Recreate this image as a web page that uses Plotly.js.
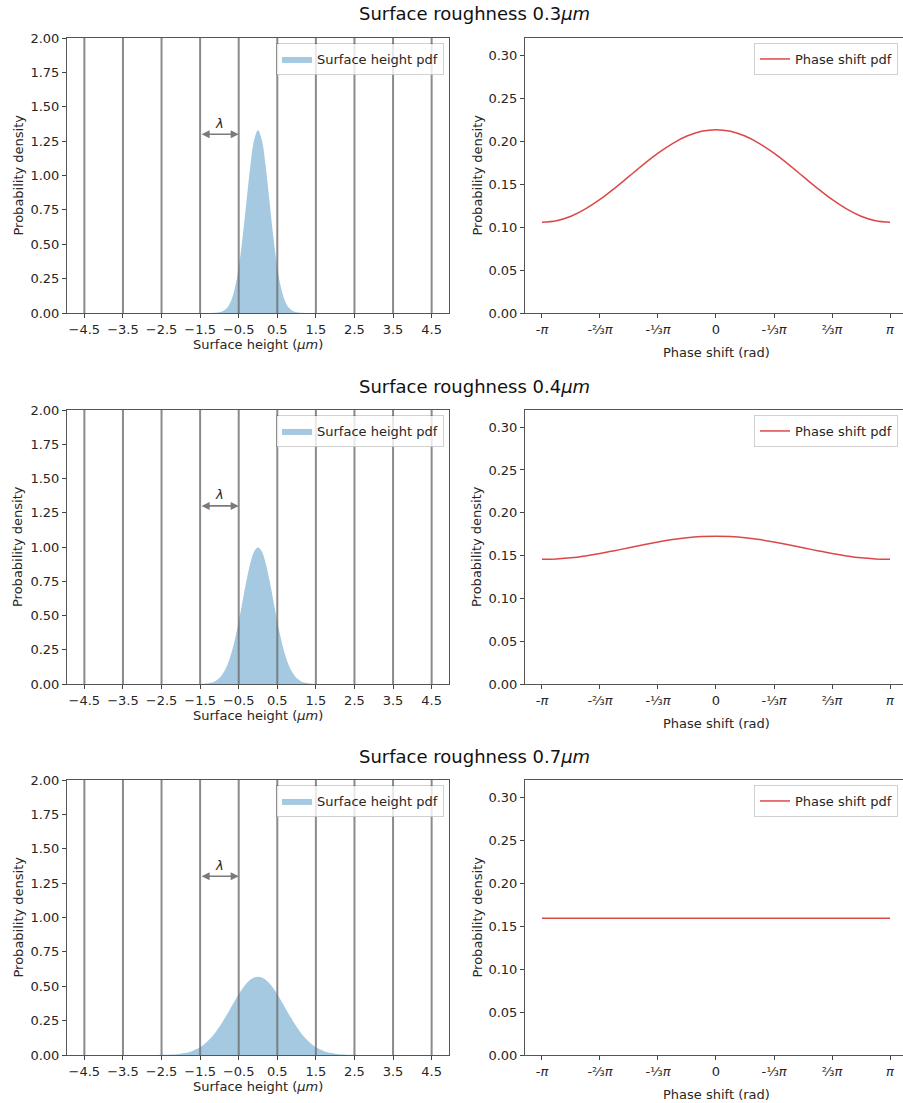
<!DOCTYPE html>
<html>
<head>
<meta charset="utf-8">
<script src="https://cdn.plot.ly/plotly-3.0.1.min.js"></script>
<style>
  html, body { margin: 0; padding: 0; background: #fff; }
  #chart { width: 903px; height: 1103px; }
</style>
</head>
<body>
<div id="chart"></div>
<script>
// Surface roughness values (µm), one row of panels each
const roughness = [0.3, 0.4, 0.7];

// Surface height grid (µm)
const height = [-3.0,-2.9,-2.8,-2.7,-2.6,-2.5,-2.4,-2.3,-2.2,-2.1,-2.0,-1.9,-1.8,-1.7,-1.6,-1.5,-1.4,-1.3,-1.2,-1.1,-1.0,
  -0.9,-0.8,-0.7,-0.6,-0.5,-0.4,-0.3,-0.2,-0.1,0.0,0.1,0.2,0.3,0.4,0.5,0.6,0.7,0.8,0.9,1.0,
  1.1,1.2,1.3,1.4,1.5,1.6,1.7,1.8,1.9,2.0,2.1,2.2,2.3,2.4,2.5,2.6,2.7,2.8,2.9,3.0];

// Surface height probability density for each roughness
const heightPdf03 = [0,0,0,0,0,0,0,0,0,0,0,0,0,0,0,0,0,
  0.0001,0.0004,0.0016,0.0051,0.0148,0.0380,0.0874,0.1800,0.3317,0.5467,0.8066,1.0648,1.2580,
  1.3298,
  1.2580,1.0648,0.8066,0.5467,0.3317,0.1800,0.0874,0.0380,0.0148,0.0051,0.0016,0.0004,0.0001,
  0,0,0,0,0,0,0,0,0,0,0,0,0,0,0,0,0];
const heightPdf04 = [0,0,0,0,0,0,0,0,0,0,0,0,0,
  0.0001,0.0003,0.0009,0.0022,0.0051,0.0111,0.0227,0.0438,0.0794,0.1350,0.2158,0.3238,0.4566,0.6049,0.7528,0.8802,0.9667,
  0.9974,
  0.9667,0.8802,0.7528,0.6049,0.4566,0.3238,0.2158,0.1350,0.0794,0.0438,0.0227,0.0111,0.0051,0.0022,0.0009,0.0003,0.0001,
  0,0,0,0,0,0,0,0,0,0,0,0,0];
const heightPdf07 = [0,0.0001,0.0002,0.0003,0.0006,0.0010,0.0016,0.0026,0.0041,0.0063,0.0096,0.0143,0.0209,0.0299,0.0418,
  0.0574,0.0771,0.1016,0.1311,0.1658,0.2054,0.2494,0.2966,0.3457,0.3947,0.4416,0.4841,0.5199,0.5471,0.5641,
  0.5699,
  0.5641,0.5471,0.5199,0.4841,0.4416,0.3947,0.3457,0.2966,0.2494,0.2054,0.1658,0.1311,0.1016,0.0771,0.0574,
  0.0418,0.0299,0.0209,0.0143,0.0096,0.0063,0.0041,0.0026,0.0016,0.0010,0.0006,0.0003,0.0002,0.0001,0];

// Phase shift grid (rad)
const phase = [-3.1416,-2.8798,-2.6180,-2.3562,-2.0944,-1.8326,-1.5708,-1.3090,-1.0472,-0.7854,-0.5236,-0.2618,0,
  0.2618,0.5236,0.7854,1.0472,1.3090,1.5708,1.8326,2.0944,2.3562,2.6180,2.8798,3.1416];

// Wrapped phase shift probability density for each roughness
const phasePdf03 = [0.1056,0.1074,0.1126,0.1211,0.1321,0.1450,0.1589,0.1729,0.1860,0.1972,0.2059,0.2114,0.2133,
  0.2114,0.2059,0.1972,0.1860,0.1729,0.1589,0.1450,0.1321,0.1211,0.1126,0.1074,0.1056];
const phasePdf04 = [0.1456,0.1461,0.1474,0.1496,0.1524,0.1557,0.1592,0.1627,0.1659,0.1687,0.1709,0.1722,0.1727,
  0.1722,0.1709,0.1687,0.1659,0.1627,0.1592,0.1557,0.1524,0.1496,0.1474,0.1461,0.1456];
const phasePdf07 = [0.15913,0.15913,0.15914,0.15914,0.15914,0.15915,0.15915,0.15915,0.15916,0.15916,0.15917,0.15917,0.15917,
  0.15917,0.15917,0.15916,0.15916,0.15915,0.15915,0.15915,0.15914,0.15914,0.15914,0.15913,0.15913];

// Wavelength markers (µm) and the λ span shown by the arrow
const wavelengthLines = [-4.5,-3.5,-2.5,-1.5,-0.5,0.5,1.5,2.5,3.5,4.5];
const heightTicks = [-4.5,-3.5,-2.5,-1.5,-0.5,0.5,1.5,2.5,3.5,4.5];
const heightTickText = ['\u22124.5','\u22123.5','\u22122.5','\u22121.5','\u22120.5','0.5','1.5','2.5','3.5','4.5'];
const lambdaSpan = [-1.5, -0.5];
const lambdaLevel = 1.3;

const phaseTicks = [-3.14159,-2.0944,-1.0472,0,1.0472,2.0944,3.14159];
const phaseTickText = ['-<i>\u03c0</i>','-\u2154<i>\u03c0</i>','-\u2153<i>\u03c0</i>','0','-\u2153<i>\u03c0</i>','\u2154<i>\u03c0</i>','<i>\u03c0</i>'];

const heightPdfs = [heightPdf03, heightPdf04, heightPdf07];
const phasePdfs = [phasePdf03, phasePdf04, phasePdf07];

const FONT = 'DejaVu Sans, sans-serif';
const TXT = '#262626';
const W = 903, H = 1103;
const px = v => v / W;
const py = v => 1 - v / H;
const axId = n => (n === 1 ? '' : String(n));

// Panel rectangles in pixels: [top, bottom] per row
const rowsPx = [[38, 313], [410, 684], [780, 1055]];
const leftPx = [67, 449];
const rightPx = [525, 903];

const data = [];
const shapes = [];
const annotations = [];
const layout = {
  width: W, height: H,
  margin: {l: 0, r: 0, t: 0, b: 0},
  paper_bgcolor: '#fff', plot_bgcolor: '#fff',
  font: {family: FONT, size: 13, color: TXT},
  showlegend: true
};

const axisCommon = {
  showgrid: false, zeroline: false,
  showline: true, linecolor: '#555', linewidth: 1,
  ticks: 'outside', ticklen: 4, tickwidth: 1, tickcolor: '#444',
  tickfont: {family: FONT, size: 13, color: TXT}
};

roughness.forEach((r, i) => {
  const [top, bot] = rowsPx[i];
  const nl = 2 * i + 1, nr = 2 * i + 2;
  const xL = 'x' + axId(nl), yL = 'y' + axId(nl);
  const xR = 'x' + axId(nr), yR = 'y' + axId(nr);
  const legL = 'legend' + axId(nl);
  const legR = 'legend' + axId(nr);

  data.push({
    type: 'scatter', mode: 'lines', x: height, y: heightPdfs[i],
    xaxis: xL, yaxis: yL,
    fill: 'tozeroy', fillcolor: 'rgba(31,119,180,0.4)',
    line: {width: 0, color: 'rgba(31,119,180,0.4)', shape: 'spline'},
    name: 'Surface height pdf', legend: legL, hoverinfo: 'skip'
  });
  data.push({
    type: 'scatter', mode: 'lines', x: phase, y: phasePdfs[i],
    xaxis: xR, yaxis: yR,
    line: {width: 1.5, color: 'rgba(214,39,40,0.85)', shape: 'spline'},
    name: 'Phase shift pdf', legend: legR, hoverinfo: 'skip'
  });

  layout['xaxis' + axId(nl)] = Object.assign({}, axisCommon, {
    domain: [px(leftPx[0]), px(leftPx[1])], anchor: yL, mirror: true,
    range: [-4.95, 4.95], tickmode: 'array', tickvals: heightTicks, ticktext: heightTickText
  });
  layout['yaxis' + axId(nl)] = Object.assign({}, axisCommon, {
    domain: [py(bot), py(top)], anchor: xL, mirror: true,
    range: [0, 2], dtick: 0.25, tick0: 0, tickformat: '.2f'
  });
  layout['xaxis' + axId(nr)] = Object.assign({}, axisCommon, {
    domain: [px(rightPx[0]), px(rightPx[1])], anchor: yR, mirror: true,
    range: [-3.448, 3.376], tickmode: 'array', tickvals: phaseTicks, ticktext: phaseTickText
  });
  layout['yaxis' + axId(nr)] = Object.assign({}, axisCommon, {
    domain: [py(bot), py(top)], anchor: xR, mirror: false,
    range: [0, 0.32], dtick: 0.05, tick0: 0, tickformat: '.2f'
  });

  const legendStyle = {
    yanchor: 'top', xanchor: 'right',
    bgcolor: 'rgba(255,255,255,0.8)', bordercolor: 'rgba(0,0,0,0.18)', borderwidth: 1,
    font: {family: FONT, size: 13, color: TXT},
    itemwidth: 30, tracegroupgap: 0
  };
  layout[legL] = Object.assign({}, legendStyle, {x: px(444), y: py(top + 5)});
  layout[legR] = Object.assign({}, legendStyle, {x: px(898), y: py(top + 5)});

  // wavelength marker lines
  wavelengthLines.forEach(v => {
    shapes.push({
      type: 'line', xref: xL, yref: yL + ' domain',
      x0: v, x1: v, y0: 0, y1: 1,
      line: {color: 'rgba(110,110,110,0.8)', width: 2}
    });
  });

  // λ span arrow
  annotations.push({
    xref: xL, yref: yL, axref: xL, ayref: yL,
    x: lambdaSpan[1], y: lambdaLevel, ax: lambdaSpan[0], ay: lambdaLevel,
    text: '', showarrow: true, arrowside: 'end+start',
    arrowhead: 2, startarrowhead: 2, arrowsize: 1, startarrowsize: 1,
    arrowwidth: 1.6, arrowcolor: '#7a7a7a', standoff: 0, startstandoff: 0
  });
  annotations.push({
    xref: xL, yref: yL,
    x: (lambdaSpan[0] + lambdaSpan[1]) / 2, y: lambdaLevel, yshift: 11,
    text: '<i>\u03bb</i>', showarrow: false,
    font: {family: FONT, size: 13, color: TXT}
  });

  // row title
  annotations.push({
    xref: 'paper', yref: 'paper', x: px(474), y: py(top - 24),
    xanchor: 'center', yanchor: 'middle', showarrow: false,
    text: 'Surface roughness ' + r.toFixed(1) + '<i>\u03bcm</i>',
    font: {family: FONT, size: 18, color: '#111'}
  });

  // axis titles
  annotations.push({
    xref: 'paper', yref: 'paper', x: px(258), y: py(bot + 31),
    xanchor: 'center', yanchor: 'middle', showarrow: false,
    text: 'Surface height (<i>\u03bcm</i>)', font: {family: FONT, size: 13, color: TXT}
  });
  annotations.push({
    xref: 'paper', yref: 'paper', x: px(716), y: py(bot + 39),
    xanchor: 'center', yanchor: 'middle', showarrow: false,
    text: 'Phase shift (rad)', font: {family: FONT, size: 13, color: TXT}
  });
  annotations.push({
    xref: 'paper', yref: 'paper', x: px(18), y: py((top + bot) / 2),
    xanchor: 'center', yanchor: 'middle', showarrow: false, textangle: -90,
    text: 'Probability density', font: {family: FONT, size: 13, color: TXT}
  });
  annotations.push({
    xref: 'paper', yref: 'paper', x: px(477), y: py((top + bot) / 2),
    xanchor: 'center', yanchor: 'middle', showarrow: false, textangle: -90,
    text: 'Probability density', font: {family: FONT, size: 13, color: TXT}
  });
});

layout.shapes = shapes;
layout.annotations = annotations;

Plotly.newPlot('chart', data, layout, {staticPlot: true, displayModeBar: false});
</script>
</body>
</html>
